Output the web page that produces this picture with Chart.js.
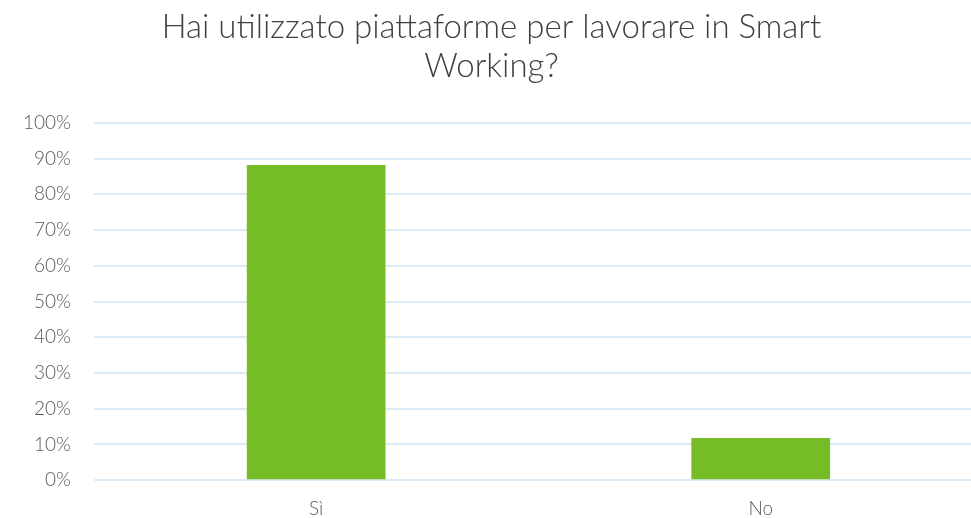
<!DOCTYPE html>
<html>
<head>
<meta charset="utf-8">
<script src="https://cdn.jsdelivr.net/npm/chart.js@4"></script>
<style>
  html, body { margin: 0; padding: 0; background: #fff; overflow: hidden; }
  #box { width: 983px; height: 529px; }
</style>
</head>
<body>
<div id="box"><canvas id="barChart"></canvas></div>
<script>
// categories and percentages
const categories = ["Sì", "No"]
const values = [88.2, 11.8]
const titleLines = ["Hai utilizzato piattaforme per lavorare in Smart", "Working?"]

const ctx = document.getElementById("barChart").getContext("2d")
const chart = new Chart(ctx, {
  type: "bar",
  data: {
    labels: categories,
    datasets: [{
      data: values,
      backgroundColor: "#76BC26",
      barPercentage: 0.312,
      categoryPercentage: 1
    }]
  },
  options: {
    responsive: true,
    maintainAspectRatio: false,
    animation: false,
    layout: { padding: { left: 0, right: 0, top: 8, bottom: 0 } },
    plugins: {
      legend: { display: false },
      tooltip: { enabled: false },
      title: {
        display: true,
        text: titleLines,
        color: "#404040",
        font: { family: "Lato", size: 33, weight: 300, lineHeight: 1.18 },
        padding: { top: 0, bottom: 37 }
      }
    },
    scales: {
      x: {
        grid: { display: false },
        border: { display: false },
        ticks: { color: "#595959", font: { family: "Lato", size: 19, weight: 300 }, padding: 9 }
      },
      y: {
        min: 0,
        max: 100,
        ticks: {
          stepSize: 10,
          color: "#595959",
          padding: 23,
          font: { family: "Lato", size: 19, weight: 300 },
          callback: v => v + "%"
        },
        grid: { color: "#DCEAF6", lineWidth: 2, drawTicks: false },
        border: { display: false }
      }
    }
  }
})
</script>
</body>
</html>
